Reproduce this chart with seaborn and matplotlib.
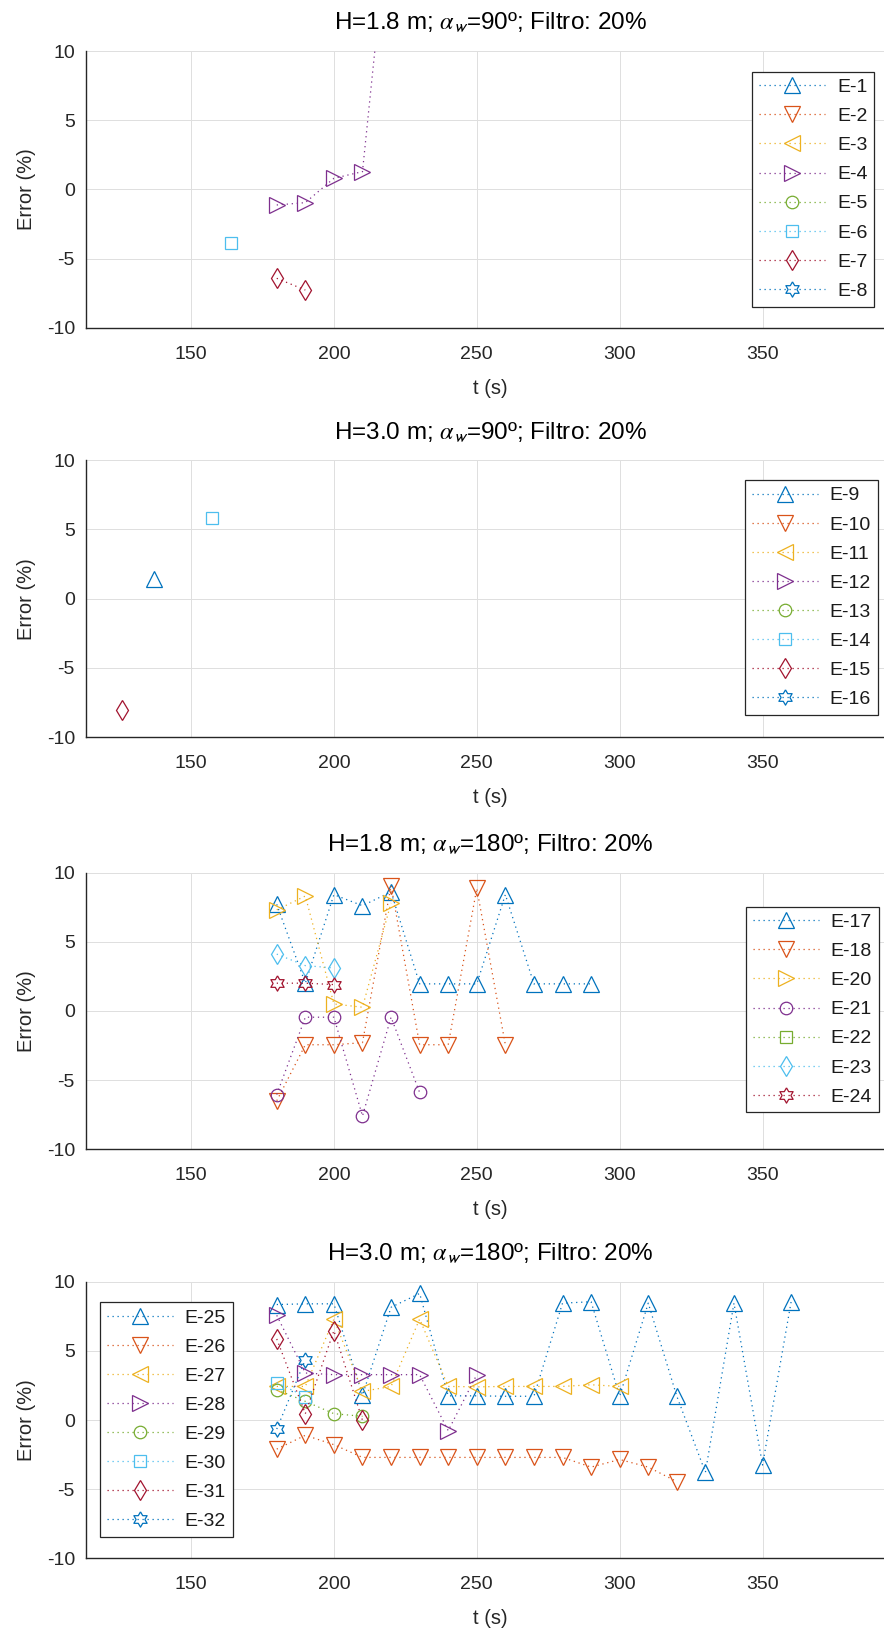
import matplotlib
matplotlib.use("Agg")
import numpy as np
import matplotlib.pyplot as plt
import seaborn as sns

# ---------------------------------------------------------------- data
# Panel 1: H=1.8 m, alpha_w=90
p1_labels = ["E-1", "E-2", "E-3", "E-4", "E-5", "E-6", "E-7", "E-8"]
p1_markers = ["^", "v", "<", ">", "o", "s", "d", "hex"]
p1_t = [[], [], [], [180, 190, 200, 210, 220], [], [164], [180, 190], []]
p1_err = [[], [], [], [-1.13, -0.96, 0.80, 1.28, 21.5], [], [-3.9], [-6.43, -7.28], []]

# Panel 2: H=3.0 m, alpha_w=90
p2_labels = ["E-9", "E-10", "E-11", "E-12", "E-13", "E-14", "E-15", "E-16"]
p2_markers = ["^", "v", "<", ">", "o", "s", "d", "hex"]
p2_t = [[137], [], [], [], [], [157.5], [125.7], []]
p2_err = [[1.43], [], [], [], [], [5.8], [-8.05], []]

# Panel 3: H=1.8 m, alpha_w=180
p3_labels = ["E-17", "E-18", "E-20", "E-21", "E-22", "E-23", "E-24"]
p3_markers = ["^", "v", ">", "o", "s", "d", "hex"]
p3_t = [
    [180, 190, 200, 210, 220, 230, 240, 250, 260, 270, 280, 290],
    [180, 190, 200, 210, 220, 230, 240, 250, 260],
    [180, 190, 200, 210, 220],
    [180, 190, 200, 210, 220, 230],
    [],
    [180, 190, 200],
    [180, 190, 200],
]
p3_err = [
    [7.7, 2.0, 8.4, 7.6, 8.6, 1.95, 1.95, 1.95, 8.4, 1.95, 1.95, 1.95],
    [-6.5, -2.45, -2.45, -2.3, 9.05, -2.45, -2.45, 8.85, -2.45],
    [7.3, 8.3, 0.5, 0.26, 7.8],
    [-6.05, -0.46, -0.46, -7.6, -0.46, -5.9],
    [],
    [4.1, 3.27, 3.1],
    [2.0, 2.0, 1.9],
]

# Panel 4: H=3.0 m, alpha_w=180
p4_labels = ["E-25", "E-26", "E-27", "E-28", "E-29", "E-30", "E-31", "E-32"]
p4_markers = ["^", "v", "<", ">", "o", "s", "d", "hex"]
p4_t = [
    [180, 190, 200, 210, 220, 230, 240, 250, 260, 270, 280, 290, 300, 310,
     320, 330, 340, 350, 360],
    [180, 190, 200, 210, 220, 230, 240, 250, 260, 270, 280, 290, 300, 310, 320],
    [180, 190, 200, 210, 220, 230, 240, 250, 260, 270, 280, 290, 300],
    [180, 190, 200, 210, 220, 230, 240, 250],
    [180, 190, 200, 210],
    [180, 190],
    [180, 190, 200, 210],
    [180, 190],
]
p4_err = [
    [8.35, 8.4, 8.4, 1.8, 8.15, 9.15, 1.75, 1.75, 1.72, 1.72, 8.45, 8.55, 1.72,
     8.45, 1.72, -3.78, 8.45, -3.25, 8.55],
    [-2.1, -1.1, -1.78, -2.7, -2.7, -2.7, -2.7, -2.7, -2.7, -2.7, -2.7, -3.4,
     -2.85, -3.4, -4.45],
    [2.43, 2.43, 7.3, 2.07, 2.43, 7.3, 2.43, 2.4, 2.43, 2.43, 2.43, 2.55, 2.43],
    [7.57, 3.4, 3.28, 3.28, 3.28, 3.28, -0.77, 3.28],
    [2.2, 1.35, 0.46, 0.27],
    [2.7, 1.7],
    [5.86, 0.46, 6.46, -0.02],
    [-0.65, 4.36],
]

titles = [
    r"H=1.8 m; $\alpha_{\mathsf{w}}$=90º; Filtro: 20%",
    r"H=3.0 m; $\alpha_{\mathsf{w}}$=90º; Filtro: 20%",
    r"H=1.8 m; $\alpha_{\mathsf{w}}$=180º; Filtro: 20%",
    r"H=3.0 m; $\alpha_{\mathsf{w}}$=180º; Filtro: 20%",
]

x_ticks = [150, 200, 250, 300, 350]
y_ticks = [-10, -5, 0, 5, 10]

# ---------------------------------------------------------------- style
COLORS = ["#0072BD", "#D95319", "#EDB120", "#7E2F8E", "#77AC30", "#4DBEEE", "#A2142F"]

# six-pointed star outline (hexagram)
_hex = []
for k in range(6):
    a_out = np.deg2rad(90 + 60 * k)
    a_in = np.deg2rad(120 + 60 * k)
    _hex.append((np.cos(a_out), np.sin(a_out)))
    _hex.append((np.cos(a_in) / np.sqrt(3), np.sin(a_in) / np.sqrt(3)))
_hex.append(_hex[0])

MARKER = {"^": "^", "v": "v", "<": "<", ">": ">", "o": "o", "s": "s", "d": "d", "hex": _hex}
MSIZE = {"^": 11.0, "v": 11.0, "<": 11.0, ">": 11.0, "o": 9.0, "s": 8.0, "d": 10.0, "hex": 11.0}

sns.set_style("white")
plt.rcParams["font.family"] = ["Liberation Sans", "DejaVu Sans"]
plt.rcParams["mathtext.fontset"] = "stix"
plt.rcParams["axes.unicode_minus"] = False

AX_COL = "#262626"
W, H = 884, 1629
fig = plt.figure(figsize=(W / 100, H / 100), dpi=100)

left_px, right_px = 86, 894
tops = [51, 460.3, 872.5, 1281.7]
ax_h = 276.7

legend_spec = [
    ("upper right", (874.3, 71.7)),
    ("upper right", (878.0, 480.0)),
    ("upper right", (879.0, 906.7)),
    ("upper left", (100.0, 1302.3)),
]

panels = [
    (p1_labels, p1_markers, p1_t, p1_err),
    (p2_labels, p2_markers, p2_t, p2_err),
    (p3_labels, p3_markers, p3_t, p3_err),
    (p4_labels, p4_markers, p4_t, p4_err),
]

for idx, (labels, markers, ts, errs) in enumerate(panels):
    top = tops[idx]
    ax = fig.add_axes([left_px / W, 1 - (top + ax_h) / H,
                       (right_px - left_px) / W, ax_h / H])
    for i, (lab, mk, t, e) in enumerate(zip(labels, markers, ts, errs)):
        col = COLORS[i % len(COLORS)]
        kw = dict(color=col, linestyle=(0, (1, 3)), linewidth=0.9,
                  marker=MARKER[mk], markersize=MSIZE[mk],
                  markeredgecolor=col, markerfacecolor="none",
                  markeredgewidth=0.9, label=lab)
        if len(t):
            sns.lineplot(x=t, y=e, ax=ax, estimator=None, errorbar=None,
                         sort=False, **kw)
        else:
            ax.plot([], [], **kw)

    ax.set_xlim(113.25, 396)
    ax.set_ylim(-10, 10)
    ax.set_xticks(x_ticks)
    ax.set_yticks(y_ticks)
    ax.grid(True, color="#dfdfdf", linewidth=0.7)
    ax.set_axisbelow(True)
    for s in ("top", "right"):
        ax.spines[s].set_visible(False)
    for s in ("left", "bottom"):
        ax.spines[s].set_color(AX_COL)
        ax.spines[s].set_linewidth(1.0)
    ax.tick_params(axis="both", direction="in", length=6, width=1.0,
                   colors=AX_COL, labelsize=14)
    ax.tick_params(axis="x", pad=13)
    ax.tick_params(axis="y", pad=8)

    ax.set_title(titles[idx], fontsize=17.5, color="#000000", pad=15)
    ax.set_xlabel("t (s)", fontsize=14.5, color=AX_COL)
    ax.set_ylabel("Error (%)", fontsize=14.5, color=AX_COL)
    ax.xaxis.set_label_coords(0.5, -60.3 / ax_h)
    ax.xaxis.label.set_va("center")
    ax.yaxis.set_label_coords((26 - left_px) / (right_px - left_px), 0.5)
    ax.yaxis.label.set_va("center")

    loc, (lx, ly) = legend_spec[idx]
    leg = ax.legend(loc=loc, bbox_to_anchor=(lx / W, 1 - ly / H),
                    bbox_transform=fig.transFigure, borderaxespad=0,
                    frameon=True, fancybox=False, edgecolor=AX_COL,
                    framealpha=1, fontsize=14, handlelength=3.4,
                    handletextpad=0.6, labelspacing=0.59, borderpad=0.35,
                    numpoints=1)
    leg.get_frame().set_linewidth(0.9)
    for txt in leg.get_texts():
        txt.set_color("#1a1a1a")

fig.savefig("out.png", dpi=100)
